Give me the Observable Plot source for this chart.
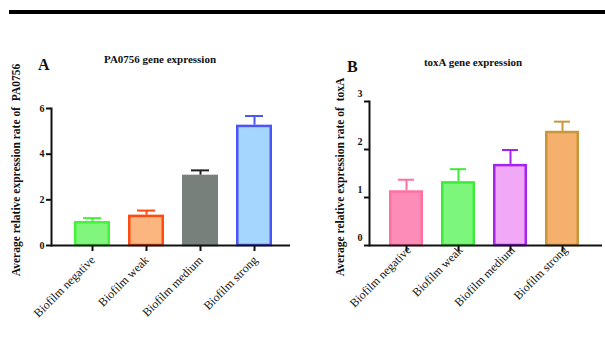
<!DOCTYPE html>
<html>
<head>
<meta charset="utf-8">
<script src="https://cdn.jsdelivr.net/npm/d3@7"></script>
<script src="https://cdn.jsdelivr.net/npm/@observablehq/plot@0.6"></script>
<style>
  html, body { margin: 0; padding: 0; background: #fff; }
  #wrap { position: relative; width: 605px; height: 357px; overflow: hidden; font-family: "Liberation Serif", serif; }
  .abs { position: absolute; white-space: nowrap; color: #111; }
  .bar { position: absolute; left: 9px; top: 10px; width: 596px; height: 4px; background: #000; }
  .letter { font-weight: bold; font-size: 16px; }
  .title { font-weight: bold; font-size: 11px; transform: translateX(-50%); }
  .ylab { font-weight: bold; font-size: 11.5px; transform: translate(-50%, -50%) rotate(-90deg); }
  .xlab { font-size: 12px; line-height: 12px; text-align: right; transform-origin: 100% 50%; transform: rotate(-45deg); }
</style>
</head>
<body>
<div id="wrap">
  <div class="bar"></div>
  <div class="abs letter" style="left:38px; top:56px;">A</div>
  <div class="abs title" style="left:160px; top:53px;">PA0756 gene expression</div>
  <div class="abs letter" style="left:347px; top:58px;">B</div>
  <div class="abs title" style="left:473px; top:56px;">toxA gene expression</div>
  <div class="abs ylab" style="left:16px; top:170px;">Average relative expression rate of&nbsp; PA0756</div>
  <div class="abs ylab" style="left:340px; top:177px;">Average relative expression rate of&nbsp; toxA</div>
  <div id="pA" class="abs" style="left:0; top:0;"></div>
  <div id="pB" class="abs" style="left:300px; top:0;"></div>
</div>
<script>
// ---- data ----
const categories = ["Biofilm negative", "Biofilm weak", "Biofilm medium", "Biofilm strong"];
const pa0756Mean = [1.05, 1.33, 3.08, 5.27];
const pa0756Upper = [1.20, 1.53, 3.29, 5.67];
const toxAMean = [1.14, 1.33, 1.69, 2.38];
const toxAUpper = [1.37, 1.59, 1.99, 2.58];
const ticksA = [0, 2, 4, 6];
const ticksB = [0, 1, 2, 3];

// ---- styles ----
const fillA = ["#80f77c", "#fbb57e", "#78807c", "#a5d6fd"];
const strokeA = ["#45f23a", "#ff4a12", "#78807c", "#4a55f6"];
const errA = ["#45f23a", "#ff4a12", "#222222", "#4a55f6"];
const fillB = ["#fd8db8", "#7df77b", "#f1a8f6", "#f5b06e"];
const strokeB = ["#ff6fa0", "#3fe93c", "#a522f0", "#c9963a"];

const dataA = categories.map((c, i) => ({cat: c, mean: pa0756Mean[i], upper: pa0756Upper[i], i}));
const dataB = categories.map((c, i) => ({cat: c, mean: toxAMean[i], upper: toxAUpper[i], i}));

function panel(data, opts) {
  return Plot.plot({
    width: opts.width,
    height: 357,
    marginLeft: opts.ml,
    marginRight: opts.mr,
    marginTop: opts.mt,
    marginBottom: 112,
    style: {fontFamily: "'Liberation Serif', serif", background: "transparent", color: "#111"},
    x: {domain: categories, range: opts.xr, paddingInner: 0.34, paddingOuter: 0.17, axis: null},
    y: {domain: opts.yd, axis: null},
    color: {type: "identity"},
    marks: [
      Plot.barY(data, {x: "cat", y: "mean", fill: d => opts.fill[d.i], stroke: d => opts.stroke[d.i],
        strokeWidth: 2.5, insetLeft: 1.25, insetRight: 1.25, insetTop: 1.25}),
      Plot.ruleX(data, {x: "cat", y1: "mean", y2: "upper", stroke: d => opts.err[d.i], strokeWidth: 2}),
      Plot.tickY(data, {x: "cat", y: "upper", stroke: d => opts.err[d.i], strokeWidth: 2, insetLeft: 9, insetRight: 9}),
      Plot.frame({anchor: "left", strokeWidth: 2, stroke: "#111"}),
      Plot.ruleY([0], {strokeWidth: 2, stroke: "#111"}),
      Plot.axisY({ticks: opts.yt, tickSize: 5, tickFormat: () => "", label: null, strokeWidth: 2}),
      Plot.axisY({ticks: opts.yt, tickSize: 0, tickPadding: 7, tickFormat: d => String(d), label: null,
        fontSize: 10, fontWeight: "bold", dy: opts.ydy}),
      Plot.axisX({tickSize: 6, tickFormat: () => "", label: null, strokeWidth: 2})
    ]
  });
}

const wrap = document.getElementById("wrap");
function addLabels(plot, offsetX, opts) {
  const xs = plot.scale("x");
  const ys = plot.scale("y");
  const y0 = ys.apply(0);
  for (const c of categories) {
    const cx = offsetX + xs.apply(c) + xs.bandwidth / 2;
    const div = document.createElement("div");
    div.className = "abs xlab";
    div.textContent = c;
    div.style.right = (605 - (cx + opts.dx)) + "px";
    div.style.top = (y0 + opts.dy - 6) + "px";
    wrap.append(div);
  }
}

const plotA = panel(dataA, {
  width: 300, ml: 51, mr: 10, mt: 108, xr: [63.8, 281.2], yd: [0, 6], yt: ticksA,
  fill: fillA, stroke: strokeA, err: errA, ydy: 0
});
const plotB = panel(dataB, {
  width: 305, ml: 69, mr: 3, mt: 101, xr: [78.1, 289.4], yd: [0, 3], yt: ticksB,
  fill: fillB, stroke: strokeB, err: strokeB, ydy: -8
});
document.getElementById("pA").append(plotA);
document.getElementById("pB").append(plotB);
addLabels(plotA, 0, {dx: 1, dy: 13});
addLabels(plotB, 300, {dx: 3, dy: 3});
</script>
</body>
</html>
